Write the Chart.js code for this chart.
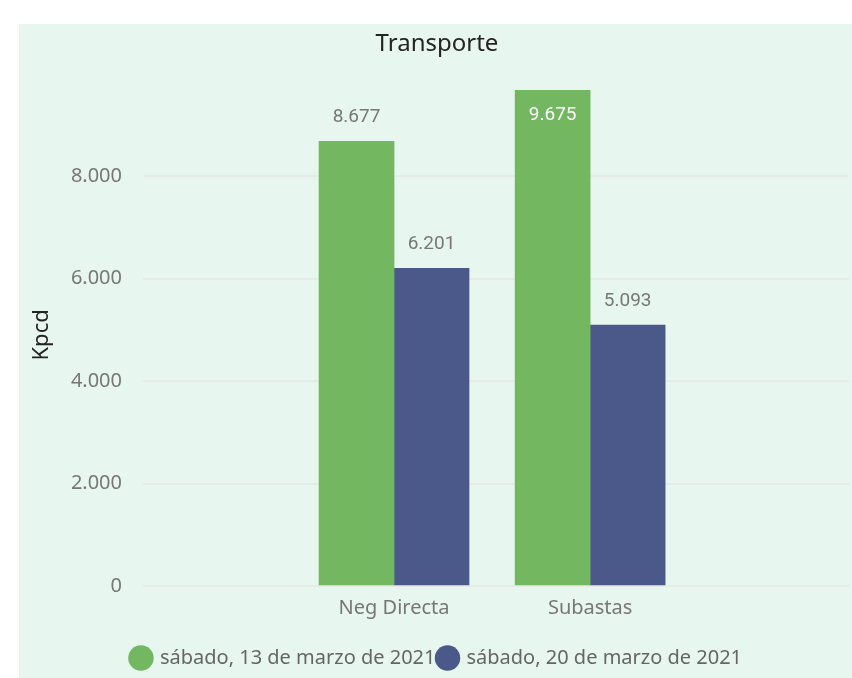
<!DOCTYPE html>
<html>
<head>
<meta charset="utf-8">
<script src="https://cdn.jsdelivr.net/npm/chart.js@4.4.1/dist/chart.umd.min.js"></script>
<style>
    body { margin: 0; background: #ffffff; }
    #panel { position: absolute; left: 19px; top: 24px; width: 833px; height: 654px; background: #e7f6ef; }
</style>
</head>
<body>
<div id="panel"><canvas id="myChart" width="833" height="654"></canvas></div>
<script>
const categories = ['Neg Directa', 'Subastas'];
const seriesNames = ['sábado, 13 de marzo de 2021', 'sábado, 20 de marzo de 2021'];
const values13 = [8677, 9675];
const values20 = [6201, 5093];
const yTicks = [0, 2000, 4000, 6000, 8000];

const fmt = v => v.toLocaleString('de-DE');

// value labels above bars (white inside when there is no room)
const barLabels = {
    id: 'barLabels',
    afterDatasetsDraw(chart) {
        const ctx = chart.ctx;
        ctx.save();
        ctx.font = '19px Roboto';
        ctx.textAlign = 'center';
        ctx.textBaseline = 'middle';
        chart.data.datasets.forEach((ds, i) => {
            chart.getDatasetMeta(i).data.forEach((bar, j) => {
                const text = fmt(ds.data[j].y);
                if (bar.y - 24 < chart.chartArea.top + 10) {
                    ctx.fillStyle = '#ffffff';
                    ctx.fillText(text, bar.x, bar.y + 25);
                } else {
                    ctx.fillStyle = '#777777';
                    ctx.fillText(text, bar.x, bar.y - 24);
                }
            });
        });
        ctx.restore();
    }
};

const ctx = document.getElementById('myChart').getContext('2d');
new Chart(ctx, {
    type: 'bar',
    data: {
        datasets: [{
            label: seriesNames[0],
            data: categories.map((c, i) => ({ x: i, y: values13[i] })),
            backgroundColor: '#73b761',
            barThickness: 75
        }, {
            label: seriesNames[1],
            data: categories.map((c, i) => ({ x: i, y: values20[i] })),
            backgroundColor: '#4a588a',
            barThickness: 75
        }]
    },
    options: {
        responsive: false,
        animation: false,
        layout: { padding: { top: 6, right: 3, bottom: 0, left: 6 } },
        plugins: {
            tooltip: { enabled: false },
            title: {
                display: true,
                text: 'Transporte',
                color: '#252423',
                font: { family: 'Noto Sans', size: 24, weight: 'normal' },
                padding: { top: 0, bottom: 25 }
            },
            legend: {
                position: 'bottom',
                labels: {
                    usePointStyle: true,
                    pointStyle: 'circle',
                    boxWidth: 18,
                    boxHeight: 18,
                    padding: 3,
                    color: '#666666',
                    font: { family: 'Noto Sans', size: 20 }
                }
            }
        },
        scales: {
            x: {
                type: 'linear',
                offset: false,
                min: -1.28,
                max: 2.32,
                grid: { display: false },
                border: { display: false },
                afterBuildTicks: axis => { axis.ticks = categories.map((c, i) => ({ value: i })); },
                afterFit: axis => { axis.height += 23; },
                ticks: {
                    color: '#777777',
                    font: { family: 'Noto Sans', size: 20 },
                    padding: 2,
                    callback: v => categories[v]
                }
            },
            y: {
                min: 0,
                max: 9800,
                afterBuildTicks: axis => { axis.ticks = yTicks.map(v => ({ value: v })); },
                afterFit: axis => { axis.width = 118; },
                grid: { color: '#e6ebe8', lineWidth: 2, drawTicks: false },
                border: { display: false },
                ticks: {
                    color: '#777777',
                    font: { family: 'Noto Sans', size: 20 },
                    padding: 21,
                    callback: v => fmt(v)
                },
                title: {
                    display: true,
                    text: 'Kpcd',
                    color: '#252423',
                    font: { family: 'Noto Sans', size: 22 }
                }
            }
        }
    },
    plugins: [barLabels]
});
</script>
</body>
</html>
